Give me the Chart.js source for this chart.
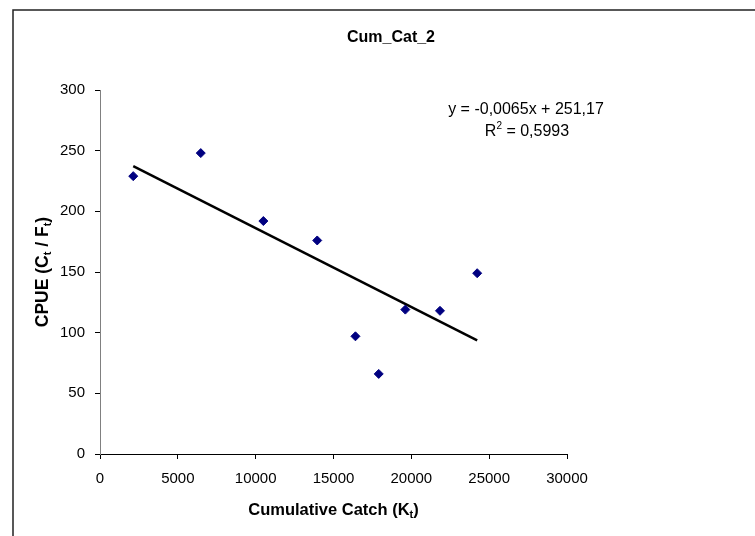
<!DOCTYPE html>
<html>
<head>
<meta charset="utf-8">
<script src="https://cdn.jsdelivr.net/npm/chart.js@4"></script>
<style>
    html, body { margin: 0; background: #fff; }
</style>
</head>
<body>
<canvas id="chart" width="755" height="536"></canvas>
<script>
// values
const catchX = [2135, 6474, 10494, 13955, 16410, 17905, 19615, 21840, 24230];
const cpueY = [229, 248, 192, 176, 97, 66, 119, 118, 149];

// trend line as printed on the chart
const trendSlope = -0.0065;
const trendIntercept = 251.17;
const trendText = 'y = -0,0065x + 251,17';
const r2Text = '0,5993';

const chartTitle = 'Cum_Cat_2';
const fontFamily = '"Liberation Sans", Arial, sans-serif';

const xMin = Math.min(...catchX);
const xMax = Math.max(...catchX);
const trendPoints = [
    {x: xMin, y: trendSlope * xMin + trendIntercept},
    {x: xMax, y: trendSlope * xMax + trendIntercept}
];

// text with sub/superscripts, centred on (cx, cy)
function drawRich(ctx, parts, cx, cy, size, bold, rotate) {
    ctx.save();
    ctx.translate(cx, cy);
    if (rotate) ctx.rotate(-Math.PI / 2);
    const fonts = parts.map(p => (bold ? 'bold ' : '') + ((p.sub || p.sup) ? Math.round(size * 0.65) : size) + 'px ' + fontFamily);
    let w = 0;
    parts.forEach((p, i) => { ctx.font = fonts[i]; w += ctx.measureText(p.t).width; });
    let x = -w / 2;
    ctx.textBaseline = 'middle';
    ctx.textAlign = 'left';
    ctx.fillStyle = '#000';
    parts.forEach((p, i) => {
        ctx.font = fonts[i];
        const dy = p.sub ? size * 0.3 : (p.sup ? -size * 0.35 : 0);
        ctx.fillText(p.t, x, dy);
        x += ctx.measureText(p.t).width;
    });
    ctx.restore();
}

const textPlugin = {
    id: 'texts',
    afterDraw(chart) {
        const ctx = chart.ctx;
        // outer frame (only top and left edges show)
        ctx.save();
        ctx.strokeStyle = '#222';
        ctx.lineWidth = 1.5;
        ctx.beginPath();
        ctx.moveTo(13, 536);
        ctx.lineTo(13, 10);
        ctx.lineTo(755, 10);
        ctx.stroke();
        ctx.restore();

        const area = chart.chartArea;
        drawRich(ctx, [{t: chartTitle}], 391, 38, 16, true);
        drawRich(ctx, [{t: 'Cumulative Catch (K'}, {t: 't', sub: true}, {t: ')'}],
            (area.left + area.right) / 2, 510, 16.5, true);
        drawRich(ctx, [{t: 'CPUE (C'}, {t: 't', sub: true}, {t: ' / F'}, {t: 't', sub: true}, {t: ')'}],
            43, (area.top + area.bottom) / 2, 17.5, true, true);
        drawRich(ctx, [{t: trendText}], 526, 110, 16, false);
        drawRich(ctx, [{t: 'R'}, {t: '2', sup: true}, {t: ' = ' + r2Text}], 527, 132, 16, false);
    }
};

new Chart(document.getElementById('chart'), {
    type: 'scatter',
    data: {
        datasets: [
            {
                label: 'Cum_Cat_2',
                data: catchX.map((x, i) => ({x: x, y: cpueY[i]})),
                pointStyle: 'rectRot',
                pointRadius: 4.5,
                backgroundColor: '#000080',
                borderColor: '#000080',
                borderWidth: 1
            },
            {
                label: 'trend',
                type: 'line',
                data: trendPoints,
                borderColor: '#000',
                borderWidth: 2.5,
                pointRadius: 0,
                fill: false
            }
        ]
    },
    options: {
        responsive: false,
        animation: false,
        layout: {padding: {left: 0, right: 188, top: 90, bottom: 0}},
        plugins: {
            legend: {display: false},
            tooltip: {enabled: false}
        },
        scales: {
            x: {
                type: 'linear',
                min: 0,
                max: 30000,
                afterFit(scale) { scale.height = 82; },
                border: {color: '#000', width: 1},
                grid: {drawOnChartArea: false, tickLength: 5, color: '#000'},
                ticks: {
                    stepSize: 5000,
                    padding: 11,
                    color: '#000',
                    font: {family: fontFamily, size: 15},
                    maxRotation: 0,
                    callback: v => String(v)
                }
            },
            y: {
                min: 0,
                max: 300,
                afterFit(scale) { scale.width = 100; },
                border: {color: '#808080', width: 1},
                grid: {drawOnChartArea: false, tickLength: 5, color: '#000'},
                ticks: {
                    stepSize: 50,
                    padding: 10,
                    color: '#000',
                    font: {family: fontFamily, size: 15},
                    callback: v => String(v)
                }
            }
        }
    },
    plugins: [textPlugin]
});
</script>
</body>
</html>
